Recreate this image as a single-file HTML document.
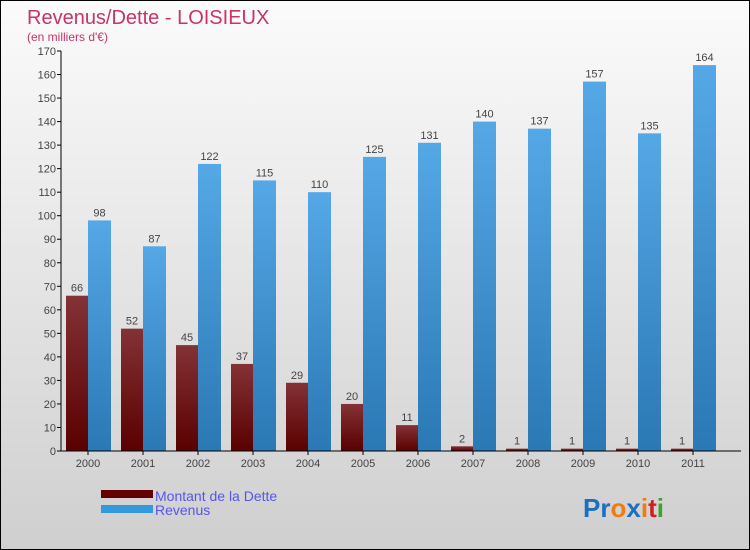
<!DOCTYPE html>
<html><head><meta charset="utf-8"><style>
body{margin:0}
#c{width:750px;height:550px;position:relative;box-sizing:border-box;border:1px solid #000;background:linear-gradient(#fbfbfb,#cfcfcf);font-family:"Liberation Sans",sans-serif;overflow:hidden}
svg text{font-family:"Liberation Sans",sans-serif}
</style></head><body>
<div id="c">
<svg width="750" height="550" id="s">
<defs>
<linearGradient id="gd" x1="0" y1="0" x2="0" y2="1"><stop offset="0" stop-color="#833236"/><stop offset="1" stop-color="#5a0000"/></linearGradient>
<linearGradient id="gr" x1="0" y1="0" x2="0" y2="1"><stop offset="0" stop-color="#55a8e6"/><stop offset="1" stop-color="#2a78b4"/></linearGradient>
</defs>
<text x="26" y="23" font-size="20" fill="#c8336a">Revenus/Dette - LOISIEUX</text>
<text x="26" y="40" font-size="12" fill="#c8336a">(en milliers d'€)</text>
<g id="plot"></g>
<rect x="100" y="489" width="52" height="8" fill="#650000"/>
<rect x="100" y="504" width="52" height="8" fill="#3399dd"/>
<text x="154" y="500" font-size="14" fill="#5555ee">Montant de la Dette</text>
<text x="154" y="514" font-size="14" fill="#5555ee">Revenus</text>
<text x="582" y="516" font-size="26" font-weight="bold"><tspan fill="#1a6fc0">Pr</tspan><tspan fill="#f07c10">o</tspan><tspan fill="#1a6fc0">x</tspan><tspan fill="#f07c10">i</tspan><tspan fill="#d02020">t</tspan><tspan fill="#40a030">i</tspan></text>
</svg>
</div>
<script>
const years=["2000","2001","2002","2003","2004","2005","2006","2007","2008","2009","2010","2011"];
const dette=[66,52,45,37,29,20,11,2,1,1,1,1];
const revenus=[98,87,122,115,110,125,131,140,137,157,135,164];
const yTicks=[0,10,20,30,40,50,60,70,80,90,100,110,120,130,140,150,160,170];
const NS="http://www.w3.org/2000/svg";
const g=document.getElementById('plot');
const y0=450,yMax=170,ph=400,x0=60;
function y(v){return y0-v/yMax*ph;}
function xg(i){return 87+i*55;}
function el(t,a){const e=document.createElementNS(NS,t);for(const k in a)e.setAttribute(k,a[k]);g.appendChild(e);return e;}
yTicks.forEach(v=>{
  const l=el('line',{x1:x0-4,x2:x0,y1:y(v),y2:y(v),stroke:'#000'});
  
  
  const t=el('text',{x:x0-5,y:y(v)+4,'font-size':11,fill:'#444','text-anchor':'end'});
  t.textContent=v;
  
  
});
years.forEach((yr,i)=>{
  const c=xg(i);
  const b1=el('rect',{x:c-22,y:y(dette[i]),width:22,height:y0-y(dette[i]),fill:'url(#gd)'});
  
  
  const b2=el('rect',{x:c,y:y(revenus[i]),width:23,height:y0-y(revenus[i]),fill:'url(#gr)'});
  
  
  const t1=el('text',{x:c-11,y:y(dette[i])-4,'font-size':11,fill:'#444','text-anchor':'middle'});
  t1.textContent=dette[i];
  
  
  const t2=el('text',{x:c+11.5,y:y(revenus[i])-4,'font-size':11,fill:'#444','text-anchor':'middle'});
  t2.textContent=revenus[i];
  
  
  const tk=el('line',{x1:c,x2:c,y1:y0,y2:y0+4,stroke:'#000'});
  
  
  const xl=el('text',{x:c,y:y0+16,'font-size':11,fill:'#444','text-anchor':'middle'});
  xl.textContent=yr;
  
  
});
const ya=el('line',{x1:x0,x2:x0,y1:y(yMax),y2:y0,stroke:'#000'});


const xa=el('line',{x1:x0,x2:740,y1:y0,y2:y0,stroke:'#000'});


</script>
</body></html>
